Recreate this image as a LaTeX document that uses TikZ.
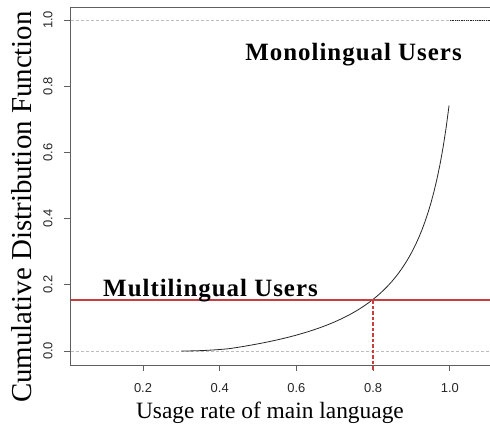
\documentclass[tikz,border=0pt]{standalone}
\usepackage{fontspec}
\setmainfont{Liberation Serif}
\newfontfamily\ticksfont{Liberation Sans}
\newfontfamily\usersfont[LetterSpace=4]{Liberation Serif}
\definecolor{cutred}{RGB}{200,62,62}
\definecolor{framegrey}{RGB}{95,95,95}
\definecolor{refgrey}{RGB}{190,190,190}

\begin{document}
\begin{tikzpicture}[x=383.5bp,y=331bp,
 	axisline/.style={framegrey,line width=0.9bp},
 	refline/.style={refgrey,line width=0.7bp,dash pattern=on 3bp off 2bp},
 	curveline/.style={black!85,line width=0.8bp},
 	ticklabel/.style={font=\fontsize{13}{15}\ticksfont,text=black!85,inner sep=0pt},
 	axislabel/.style={font=\fontsize{23.5}{26}\selectfont,inner sep=0pt},
 	grouplabel/.style={font=\fontsize{25}{28}\usersfont\bfseries,anchor=base,inner sep=0pt}]
 	\useasboundingbox (-0.1729,-0.2266) rectangle (1.1048,1.0604);
 	
 	% plot region
 	\coordinate (ll) at (0.012,-0.0423);
 	\coordinate (ul) at (0.012,1.0393);
 	\coordinate (lr) at (1.1048,-0.0423);
 	\coordinate (ur) at (1.1048,1.0393);
 	
 	% reference lines at 0 and 1
 	\coordinate (zeroL) at (0.012,0);
 	\coordinate (zeroR) at (1.1048,0);
 	\coordinate (oneL) at (0.012,1);
 	\coordinate (oneR) at (1.1048,1);
 	\draw[refline] (zeroL) -- (zeroR);
 	\draw[refline] (oneL) -- (oneR);
 	
 	% ecdf
 	\draw[curveline] plot[domain=0.3:0.999,samples=90]
 		(\x,{max(0.018*((\x-0.3)/0.2)^2,0.0755/(1.087-\x)-0.107)});
 	\coordinate (stepL) at (1.0,1);
 	\draw[curveline,densely dotted] (stepL) -- (oneR);
 	
 	% frame
 	\draw[axisline] (lr) -- (ll) -- (ul) -- (ur);
 	
 	% ticks
 	\foreach \v [count=\i] in {0.2,0.4,0.6,0.8,1.0} {
 		\draw[axisline] (\v,-0.0423) -- (\v,-0.0604);
 		\node[ticklabel] (xtick\i) at (\v,-0.112) {\v};
 	}
 	\foreach \v [count=\i] in {0.0,0.2,0.4,0.6,0.8,1.0} {
 		\draw[axisline] (0.012,\v) -- (-0.0063,\v);
 		\node[ticklabel,rotate=90] (ytick\i) at (-0.0477,\v) {\v};
 	}
 	
 	% cut at 0.8
 	\coordinate (cut) at (0.8,0.154);
 	\coordinate (cutL) at (0.012,0.154);
 	\coordinate (cutR) at (1.1048,0.154);
 	\coordinate (cutfoot) at (0.8,-0.058);
 	\draw[cutred,line width=1.8bp] (cutL) -- (cutR);
 	\draw[cutred,line width=1.3bp,dash pattern=on 3.5bp off 2bp] (cut) -- (cutfoot);
 	
 	% labels
 	\node[axislabel] (xlabel) at (0.531,-0.187) {Usage rate of main language};
 	\node[axislabel,font=\fontsize{29}{32}\selectfont,rotate=90] (ylabel) at (-0.1155,0.435) {Cumulative Distribution Function};
 	\node[grouplabel] (mono) at (0.749,0.879) {Monolingual Users};
 	\node[grouplabel] (multi) at (0.376,0.166) {Multilingual Users};
\end{tikzpicture}
\end{document}
